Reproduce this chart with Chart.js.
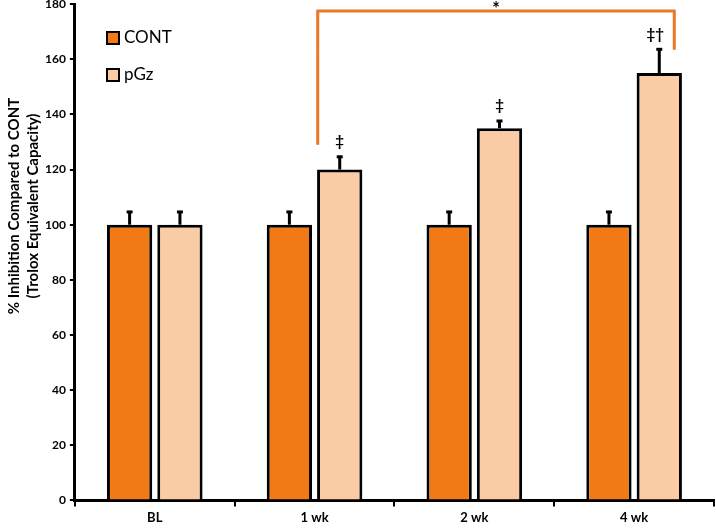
<!DOCTYPE html>
<html>
<head>
<meta charset="utf-8">
<script src="https://cdn.jsdelivr.net/npm/chart.js@4.4.0/dist/chart.umd.min.js"></script>
<style>
  body { margin: 0; background: #fff; overflow: hidden; }
  #wrap { width: 716px; height: 535px; margin-top: -7px; }
</style>
</head>
<body>
<div id="wrap"><canvas id="myChart"></canvas></div>
<script>
const ctx = document.getElementById("myChart");

// groups and values
const labels = ['BL', '1 wk', '2 wk', '4 wk'];
const contVals = [100, 100, 100, 100];
const contErr = [5, 5, 5, 5];
const pgzVals = [100, 120, 135, 155];
const pgzErr = [5, 5, 3, 9];
const pgzMarks = ['', '\u2021', '\u2021', '\u2021\u2020'];
const yTicks = [0, 20, 40, 60, 80, 100, 120, 140, 160, 180];
const yTitle = ['% Inhibition Compared to CONT', '(Trolox Equivalent Capacity)'];

const orange = 'rgb(241,121,22)';
const peach = 'rgb(250,204,165)';
const FONT = 'Lato, "Open Sans", sans-serif';
const SHIFT = 7; // canvas sits 7px above the page top

// error bars, marks, bracket, y title and the legend drawn on top
const extras = {
  id: 'extras',
  afterDatasetsDraw(chart) {
    const c = chart.ctx;
    const y = chart.scales.y;
    const errs = [contErr, pgzErr];
    c.save();
    c.strokeStyle = '#000';
    c.lineWidth = 3;
    chart.data.datasets.forEach((ds, i) => {
      chart.getDatasetMeta(i).data.forEach((bar, j) => {
        const top = y.getPixelForValue(ds.data[j] + errs[i][j]);
        c.beginPath();
        c.moveTo(bar.x, bar.y);
        c.lineTo(bar.x, top);
        c.stroke();
        c.beginPath();
        c.moveTo(bar.x - 3, top + 1);
        c.lineTo(bar.x + 3, top + 1);
        c.stroke();
      });
    });

    // significance marks over pGz
    const pm = chart.getDatasetMeta(1).data;
    c.fillStyle = '#000';
    c.font = 'bold 15px ' + FONT;
    c.textAlign = 'center';
    c.textBaseline = 'bottom';
    pm.forEach((bar, j) => {
      if (!pgzMarks[j]) return;
      const top = y.getPixelForValue(pgzVals[j] + pgzErr[j]);
      c.fillText(pgzMarks[j], bar.x - 4 * (pgzMarks[j].length - 1), top - 7);
    });

    // bracket 1 wk -> 4 wk
    const x1 = pm[1].x - 22, x2 = pm[3].x + 15;
    const yt = y.getPixelForValue(177.5);
    c.strokeStyle = 'rgb(232,122,40)';
    c.lineWidth = 3;
    c.beginPath();
    c.moveTo(x1, y.getPixelForValue(129));
    c.lineTo(x1, yt);
    c.lineTo(x2, yt);
    c.lineTo(x2, y.getPixelForValue(163.5));
    c.stroke();
    c.fillStyle = '#000';
    c.font = 'bold 18px ' + FONT;
    c.textBaseline = 'middle';
    c.fillText('*', (x1 + x2) / 2, 9 + SHIFT);

    // y title
    c.font = 'bold 15px ' + FONT;
    c.textAlign = 'center';
    c.textBaseline = 'middle';
    c.save();
    c.translate(0, 206 + SHIFT);
    c.rotate(-Math.PI / 2);
    c.fillText(yTitle[0], 0, 14);
    c.fillText(yTitle[1], 0, 33);
    c.restore();

    // legend
    const items = [['CONT', orange, 31], ['pGz', peach, 68]];
    c.font = '17px ' + FONT;
    c.textAlign = 'left';
    items.forEach(([txt, col, ty]) => {
      const t = ty + SHIFT;
      c.fillStyle = col;
      c.fillRect(107, t + 1, 12, 12);
      c.strokeStyle = '#000';
      c.lineWidth = 2;
      c.strokeRect(107, t + 1, 12, 12);
      c.fillStyle = '#000';
      c.textBaseline = 'middle';
      c.fillText(txt, 124, t + 7);
    });
    c.restore();
  }
};

new Chart(ctx, {
  type: 'bar',
  data: {
    labels: labels,
    datasets: [
      { label: 'CONT', data: contVals, backgroundColor: orange, borderColor: '#000', borderWidth: 3, borderSkipped: 'bottom' },
      { label: 'pGz', data: pgzVals, backgroundColor: peach, borderColor: '#000', borderWidth: 3, borderSkipped: 'bottom' }
    ]
  },
  options: {
    responsive: true,
    maintainAspectRatio: false,
    animation: false,
    layout: { padding: { top: 0, right: 2, left: 41, bottom: -2 } },
    datasets: { bar: { categoryPercentage: 0.63, barPercentage: 0.9 } },
    plugins: {
      legend: { display: false },
      tooltip: { enabled: false }
    },
    scales: {
      x: {
        grid: { display: true, drawOnChartArea: false, offset: true, color: '#000', lineWidth: 2, tickLength: 6 },
        border: { color: '#000', width: 3 },
        ticks: { color: '#000', font: { family: FONT, size: 13, weight: 'bold' }, padding: 4 }
      },
      y: {
        min: 0,
        max: 180,
        afterBuildTicks(scale) { scale.ticks = yTicks.map(v => ({ value: v })); },
        grid: { display: true, drawOnChartArea: false, color: '#000', lineWidth: 2, tickLength: 5 },
        border: { color: '#000', width: 3 },
        ticks: { color: '#000', font: { family: FONT, size: 12, weight: 'bold' }, padding: 4 }
      }
    }
  },
  plugins: [extras]
});
</script>
</body>
</html>
